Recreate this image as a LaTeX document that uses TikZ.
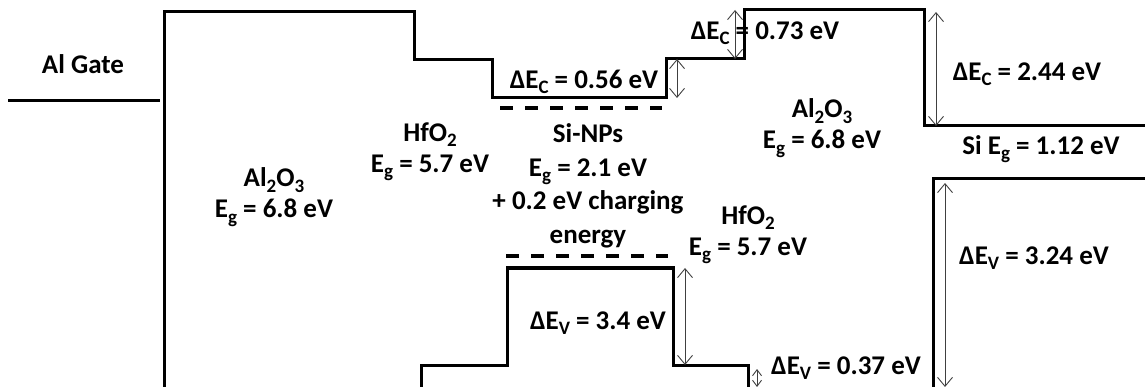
\documentclass[tikz,border=0pt]{standalone}
\usepackage{fontspec}
\setmainfont{Carlito}
\usetikzlibrary{arrows.meta}

\tikzset{
  band/.style={line width=3pt, line join=miter},
  level/.style={line width=3.5pt, dash pattern=on 13pt off 12pt},
  offset/.style={{Straight Barb[length=9pt,width=15pt]}-{Straight Barb[length=9pt,width=15pt]},
    line width=0.9pt, black!75},
  smalloffset/.style={{Straight Barb[length=6pt,width=9pt]}-{Straight Barb[length=6pt,width=9pt]},
    line width=0.9pt, black!75},
  lbl/.style={font=\fontsize{27}{31}\selectfont\bfseries, inner sep=0pt, align=center},
}
\newcommand{\sub}[1]{\raisebox{-0.2em}{\fontsize{19}{19}\selectfont #1}}

\begin{document}
\begin{tikzpicture}[x=1pt,y=-1pt]
    \useasboundingbox (0,0) rectangle (1145,387);

    % --- 1. gate level ---
    \coordinate (G1) at (8,101);
    \coordinate (G2) at (160,101);
    \draw[band] (G1) -- (G2);

    % --- 2. conduction band edge ---
    \draw[band] (164,387) -- (164,12) -- (414,12) -- (414,60) -- (492,60)
        -- (492,98) -- (666,98) -- (666,59) -- (744,59) -- (744,10)
        -- (924,10) -- (924,126) -- (1150,126);

    % --- 3. valence band edge ---
    \draw[band] (421,390) -- (421,365) -- (507,365) -- (507,268) -- (673,268)
        -- (673,365) -- (748,365) -- (748,390);
    \draw[band] (1150,179) -- (933,179) -- (933,390);

    % --- 4. Si-NP levels with charging energy ---
    \draw[level] (500,108) -- (662,108);
    \draw[level] (506,256) -- (668,256);

    % --- 5. band offsets ---
    \coordinate (C1a) at (677,59);  \coordinate (C1b) at (677,98);
    \coordinate (C2a) at (735,10);  \coordinate (C2b) at (735,59);
    \coordinate (C3a) at (936,12);  \coordinate (C3b) at (936,126);
    \coordinate (V1a) at (685,268); \coordinate (V1b) at (685,365);
    \coordinate (V2a) at (757,369); \coordinate (V2b) at (757,387);
    \coordinate (V3a) at (945,183); \coordinate (V3b) at (945,387);
    \draw[offset] (C1a) -- (C1b);
    \draw[offset] (C2a) -- (C2b);
    \draw[offset] (C3a) -- (C3b);
    \draw[offset] (V1a) -- (V1b);
    \draw[smalloffset] (V2a) -- (V2b);
    \draw[offset] (V3a) -- (V3b);

    % --- 6. labels ---
    \node[lbl] (gate) at (83,64) {Al Gate};
    \node[lbl] (oxL) at (274,197) {Al\sub{2}O\sub{3}\\E\sub{g} = 6.8 eV};
    \node[lbl] (hfL) at (430,152) {HfO\sub{2}\\E\sub{g} = 5.7 eV};
    \node[lbl] (dEc1) at (584,82) {ΔE\sub{C} = 0.56 eV};
    \node[lbl, font=\fontsize{27}{33.5}\selectfont\bfseries] (np) at (588,186)
        {Si-NPs\\E\sub{g} = 2.1 eV\\+ 0.2 eV charging\\energy};
    \node[lbl] (dEc2) at (765,33) {ΔE\sub{C} = 0.73 eV};
    \node[lbl] (oxR) at (822,128) {Al\sub{2}O\sub{3}\\E\sub{g} = 6.8 eV};
    \node[lbl] (dEc3) at (1027,74) {ΔE\sub{C} = 2.44 eV};
    \node[lbl] (si) at (1041,149) {Si E\sub{g} = 1.12 eV};
    \node[lbl] (hfR) at (748,235) {HfO\sub{2}\\E\sub{g} = 5.7 eV};
    \node[lbl] (dEv1) at (598,323) {ΔE\sub{V} = 3.4 eV};
    \node[lbl] (dEv2) at (846,368) {ΔE\sub{V} = 0.37 eV};
    \node[lbl] (dEv3) at (1034,258) {ΔE\sub{V} = 3.24 eV};
\end{tikzpicture}
\end{document}
